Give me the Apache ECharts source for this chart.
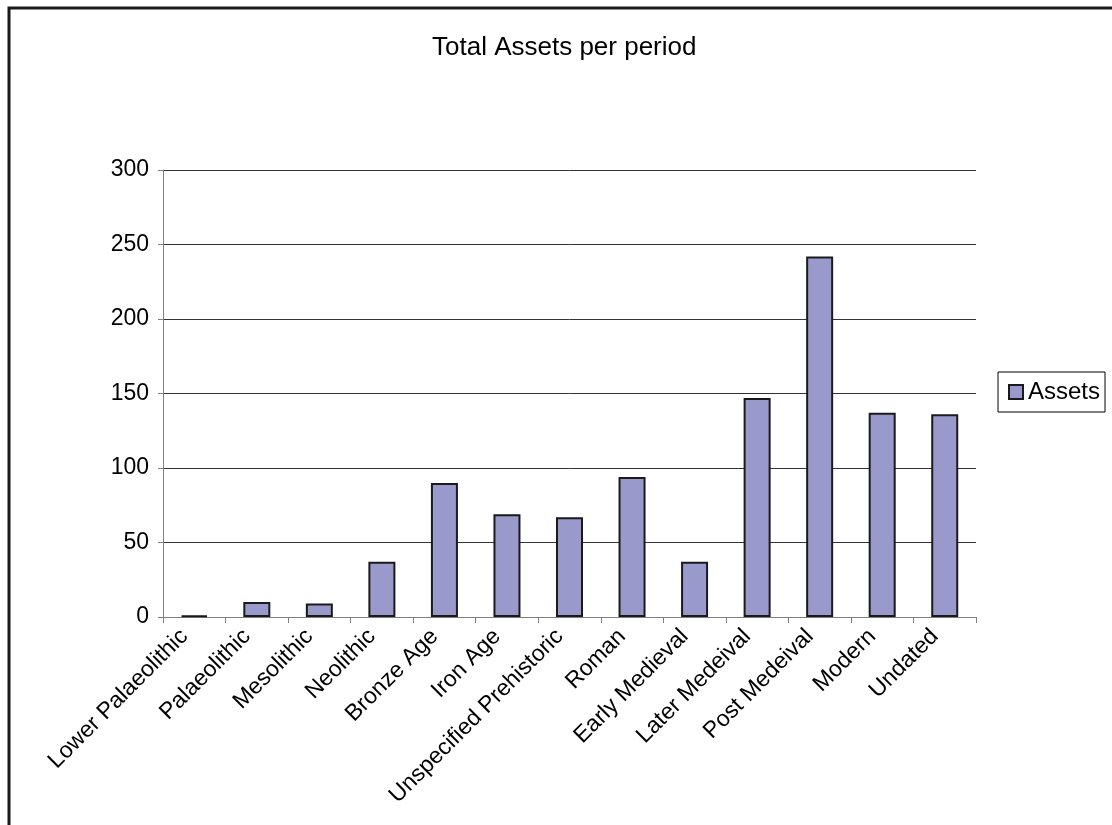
<!DOCTYPE html>
<html>
<head>
<meta charset="utf-8">
<script src="https://cdn.jsdelivr.net/npm/echarts@6/dist/echarts.min.js"></script>
<style>
html,body{margin:0;padding:0;background:#fff;}
#chart{width:1112px;height:825px;}
</style>
</head>
<body>
<div id="chart"></div>
<script>
var categories = ["Lower Palaeolithic","Palaeolithic","Mesolithic","Neolithic","Bronze Age","Iron Age","Unspecified Prehistoric","Roman","Early Medieval","Later Medeival","Post Medeival","Modern","Undated"];
var assets = [1, 10, 9, 37, 90, 69, 67, 94, 37, 147, 242, 137, 136];
var yTicks = {min: 0, max: 300, interval: 50};

var FONT = "'Liberation Sans', Arial, sans-serif";
var chart = echarts.init(document.getElementById('chart'), null, {renderer: 'canvas'});
chart.setOption({
  backgroundColor: '#ffffff',
  animation: false,
  title: {
    text: 'Total Assets per period',
    left: 432,
    top: 35,
    padding: 0,
    textStyle: {fontFamily: FONT, fontSize: 26, fontWeight: 'normal', color: '#000'}
  },
  graphic: [{
    type: 'rect',
    shape: {x: 9, y: 8, width: 1300, height: 1000},
    style: {fill: 'none', stroke: '#1a1a1a', lineWidth: 3},
    silent: true
  }],
  legend: {
    left: 998,
    top: 372,
    orient: 'vertical',
    padding: [8, 5, 8, 10],
    borderColor: '#000',
    borderWidth: 1,
    itemWidth: 14,
    itemHeight: 14,
    itemGap: 5,
    icon: 'rect',
    textStyle: {fontFamily: FONT, fontSize: 24, color: '#000', padding: [0, 0, 0, 0]},
    data: ['Assets']
  },
  grid: {left: 163, right: 136, top: 170, bottom: 208, containLabel: false},
  xAxis: {
    type: 'category',
    data: categories,
    axisLine: {show: true, lineStyle: {color: '#808080', width: 1}},
    axisTick: {show: true, length: 6, lineStyle: {color: '#808080'}},
    axisLabel: {rotate: 45, margin: 6, interval: 0, padding: [0, 14, 0, 0], fontFamily: FONT, fontSize: 23, color: '#000'},
    splitLine: {show: false}
  },
  yAxis: {
    type: 'value',
    min: yTicks.min,
    max: yTicks.max,
    interval: yTicks.interval,
    axisLine: {show: true, lineStyle: {color: '#808080', width: 1}},
    axisTick: {show: true, length: 5, lineStyle: {color: '#808080'}},
    axisLabel: {margin: 14, fontFamily: FONT, fontSize: 23, color: '#000'},
    splitLine: {show: true, lineStyle: {color: '#333', width: 1}}
  },
  series: [{
    name: 'Assets',
    type: 'bar',
    data: assets,
    barWidth: 27,
    itemStyle: {color: '#9999cc', borderColor: '#1a1a1a', borderWidth: 2}
  }]
});
</script>
</body>
</html>
